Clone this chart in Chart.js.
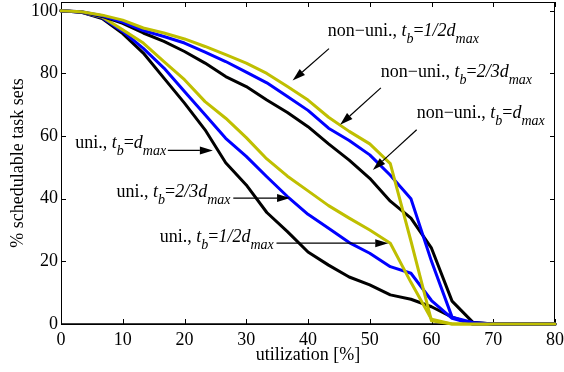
<!DOCTYPE html>
<html>
<head>
<meta charset="utf-8">
<script src="https://cdn.jsdelivr.net/npm/chart.js@4.4.0/dist/chart.umd.min.js"></script>
<style>
  html, body { margin: 0; padding: 0; background: #fff; }
</style>
</head>
<body>
<canvas id="myChart" width="564" height="372"></canvas>
<script>
// utilization [%] at which each curve was sampled
var utilization = [0, 3.33, 6.67, 10, 13.33, 16.67, 20, 23.33, 26.67, 30, 33.33, 36.67, 40,
                   43.33, 46.67, 50, 53.33, 56.67, 60, 63.33, 66.67, 70, 73.33, 76.67, 80];

// % schedulable task sets
var uniDmax   = [100, 99.5, 97.5, 92.7, 86.5, 78.5, 70.5, 62, 51.5, 44.4, 35.6, 29.5, 23,
                 18.8, 15, 12.5, 9.3, 7.9, 5.5, 2.2, 0, 0, 0, 0, 0];
var uni23     = [100, 99.5, 97.8, 93.4, 88, 81.7, 74.2, 66.8, 59.3, 53.5, 47, 40.7, 35,
                 30.6, 26, 22.6, 18.3, 16.2, 7.5, 1.8, 0, 0, 0, 0, 0];
var uni12     = [100, 99.6, 98, 93.9, 89.7, 83.8, 78, 71, 65.7, 59.5, 52.7, 47.2, 42.5,
                 37.8, 33.8, 30, 25.8, 13.3, 1.5, 0, 0, 0, 0, 0, 0];
var nonUniDmax = [100, 99.6, 98.2, 96, 92.9, 90.2, 87, 83.3, 79, 75.8, 71.5, 67.5, 63,
                  57.5, 52.3, 46.5, 39.2, 33.8, 24.2, 7.3, 0.6, 0, 0, 0, 0];
var nonUni23   = [100, 99.7, 98.4, 96.4, 93.7, 91.8, 89.7, 86.8, 83.8, 80.4, 77, 72.6, 68.2,
                  62.5, 58.6, 54, 47.5, 40, 20, 2.2, 0.5, 0, 0, 0, 0];
var nonUni12   = [100, 99.7, 98.6, 97, 94.5, 92.9, 91, 88.6, 86, 83.3, 80, 75.8, 71.5,
                  66, 61.5, 57.5, 51.2, 26.5, 1, 0, 0, 0, 0, 0, 0];

var xTicks = [0, 10, 20, 30, 40, 50, 60, 70, 80];
var yTicks = [0, 20, 40, 60, 80, 100];

// text labels with arrows (data coordinates)
var notes = [
  { pre: 'non\u2212uni., ', val: '1/2d', x: 43.2, y: 91.8, from: [43.4, 87.9], tip: [37.5, 77.7] },
  { pre: 'non\u2212uni., ', val: '2/3d', x: 51.8, y: 79.0, from: [51.8, 75.4], tip: [45.2, 63.6] },
  { pre: 'non\u2212uni., ', val: 'd',    x: 57.6, y: 65.8, from: [57.6, 62.0], tip: [50.5, 49.2] },
  { pre: 'uni., ',          val: 'd',    x: 2.3,  y: 56.1, from: [17.3, 55.4], tip: [24.6, 55.4] },
  { pre: 'uni., ',          val: '2/3d', x: 9.0,  y: 40.7, from: [27.9, 40.2], tip: [37.1, 40.2] },
  { pre: 'uni., ',          val: '1/2d', x: 16.0, y: 26.3, from: [34.9, 25.8], tip: [53.0, 25.8] }
];

var SERIF = '"Liberation Serif", "DejaVu Serif", serif';

function pts(arr) {
  return arr.map(function (v, i) { return { x: utilization[i], y: v }; });
}

function arrow(ctx, x1, y1, x2, y2) {
  var ang = Math.atan2(y2 - y1, x2 - x1);
  var len = 13, hw = 4;
  var bx = x2 - len * Math.cos(ang), by = y2 - len * Math.sin(ang);
  ctx.beginPath();
  ctx.moveTo(x1, y1);
  ctx.lineTo(bx, by);
  ctx.stroke();
  ctx.beginPath();
  ctx.moveTo(x2, y2);
  ctx.lineTo(bx + hw * Math.sin(ang), by - hw * Math.cos(ang));
  ctx.lineTo(bx - hw * Math.sin(ang), by + hw * Math.cos(ang));
  ctx.closePath();
  ctx.fill();
}

function richText(ctx, x, y, n) {
  var parts = [
    { s: n.pre,  f: '18px ' + SERIF, dy: 0 },
    { s: 't',    f: 'italic 18px ' + SERIF, dy: 0 },
    { s: 'b',    f: 'italic 14px ' + SERIF, dy: 7 },
    { s: '=',    f: '18px ' + SERIF, dy: 0 },
    { s: n.val,  f: 'italic 18px ' + SERIF, dy: 0 },
    { s: 'max',  f: 'italic 14px ' + SERIF, dy: 7 }
  ];
  ctx.textAlign = 'left';
  ctx.textBaseline = 'alphabetic';
  parts.forEach(function (p) {
    ctx.font = p.f;
    ctx.fillText(p.s, x, y + p.dy);
    x += ctx.measureText(p.s).width;
  });
}

var framePlugin = {
  id: 'frame',
  beforeDatasetsDraw: function (chart) {
    var ctx = chart.ctx, a = chart.chartArea;
    var xs = chart.scales.x, ys = chart.scales.y;
    ctx.save();
    ctx.strokeStyle = '#000';
    ctx.lineWidth = 1;
    ctx.strokeRect(a.left + 0.5, a.top + 0.5, a.right - a.left - 1, a.bottom - a.top);
    ctx.beginPath();
    xTicks.forEach(function (v) {
      var px = Math.round(xs.getPixelForValue(v)) + 0.5;
      ctx.moveTo(px, a.bottom); ctx.lineTo(px, a.bottom - 5);
      ctx.moveTo(px, a.top); ctx.lineTo(px, a.top + 5);
    });
    yTicks.forEach(function (v) {
      var py = Math.round(ys.getPixelForValue(v)) + 0.5;
      ctx.moveTo(a.left, py); ctx.lineTo(a.left + 5, py);
      ctx.moveTo(a.right, py); ctx.lineTo(a.right - 5, py);
    });
    ctx.stroke();
    // slightly heavier bottom axis
    ctx.beginPath();
    ctx.lineWidth = 1.5;
    ctx.moveTo(a.left, a.bottom); ctx.lineTo(a.right, a.bottom);
    ctx.stroke();
    ctx.restore();
  },
  afterDatasetsDraw: function (chart) {
    var ctx = chart.ctx;
    var xs = chart.scales.x, ys = chart.scales.y;
    ctx.save();
    ctx.fillStyle = '#000';
    ctx.strokeStyle = '#000';
    ctx.lineWidth = 1.2;
    notes.forEach(function (n) {
      richText(ctx, xs.getPixelForValue(n.x), ys.getPixelForValue(n.y), n);
      arrow(ctx,
        xs.getPixelForValue(n.from[0]), ys.getPixelForValue(n.from[1]),
        xs.getPixelForValue(n.tip[0]), ys.getPixelForValue(n.tip[1]));
    });
    ctx.restore();
  }
};

var YELLOW = '#bfbf00', BLUE = '#0000ff', BLACK = '#000000';

var ctx = document.getElementById('myChart').getContext('2d');
var chart = new Chart(ctx, {
  type: 'line',
  data: {
    datasets: [
      { label: 'non-uni., tb=1/2dmax', data: pts(nonUni12),  borderColor: YELLOW },
      { label: 'non-uni., tb=2/3dmax', data: pts(nonUni23),  borderColor: BLUE },
      { label: 'non-uni., tb=dmax',    data: pts(nonUniDmax), borderColor: BLACK },
      { label: 'uni., tb=1/2dmax',     data: pts(uni12),     borderColor: YELLOW },
      { label: 'uni., tb=2/3dmax',     data: pts(uni23),     borderColor: BLUE },
      { label: 'uni., tb=dmax',        data: pts(uniDmax),   borderColor: BLACK }
    ]
  },
  options: {
    responsive: false,
    animation: false,
    devicePixelRatio: 1,
    layout: { padding: { top: 2, right: 9, left: 0, bottom: 0 } },
    elements: {
      point: { radius: 0 },
      line: { tension: 0, borderWidth: 3, fill: false, borderJoinStyle: 'round', borderCapStyle: 'round' }
    },
    datasets: { line: { clip: 4 } },
    plugins: { legend: { display: false }, tooltip: { enabled: false } },
    scales: {
      x: {
        type: 'linear', min: 0, max: 80,
        grid: { display: false, drawTicks: false },
        border: { display: false },
        afterBuildTicks: function (s) { s.ticks = xTicks.map(function (v) { return { value: v }; }); },
        afterFit: function (s) { s.height = 48; s.paddingLeft = 0; s.paddingRight = 0; },
        ticks: { color: '#000', padding: 5, maxRotation: 0, font: { family: SERIF, size: 18 } },
        title: { display: true, text: 'utilization [%]', color: '#000',
                 font: { family: SERIF, size: 18 }, padding: { top: 0, bottom: 6 } }
      },
      y: {
        min: 0, max: 102.8,
        grid: { display: false, drawTicks: false },
        border: { display: false },
        afterBuildTicks: function (s) { s.ticks = yTicks.map(function (v) { return { value: v }; }); },
        afterFit: function (s) { s.width = 61; s.paddingTop = 0; s.paddingBottom = 0; },
        ticks: { color: '#000', padding: 3, font: { family: SERIF, size: 18 } },
        title: { display: true, text: '% schedulable task sets', color: '#000',
                 font: { family: SERIF, size: 18 }, padding: { top: 7, bottom: 0 } }
      }
    }
  },
  plugins: [framePlugin]
});
</script>
</body>
</html>
